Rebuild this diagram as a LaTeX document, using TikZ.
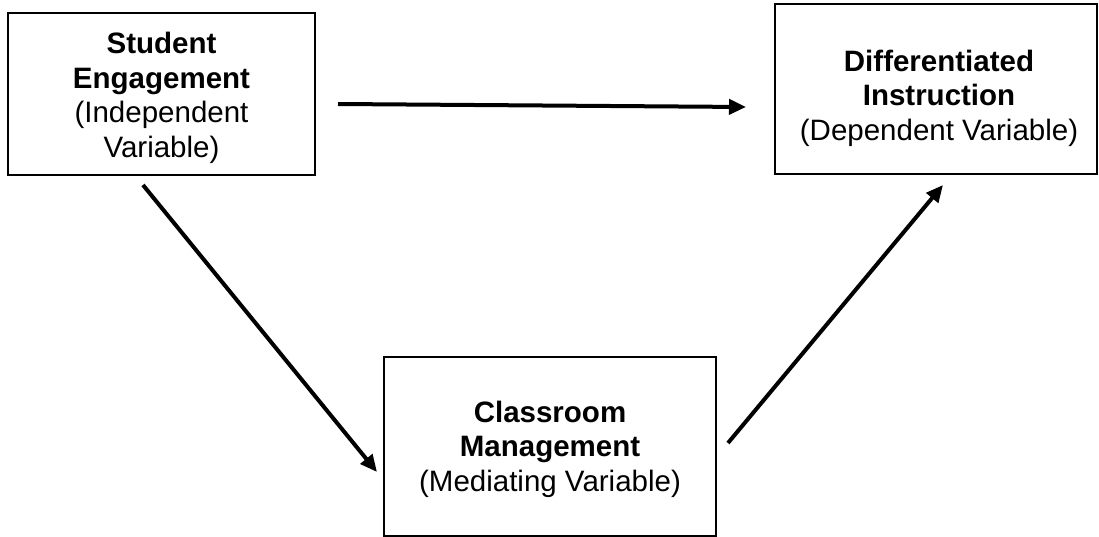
\documentclass[tikz,border=0pt]{standalone}
\usepackage{fontspec}
\setmainfont{Liberation Sans}
\usetikzlibrary{arrows.meta}
\begin{document}
\begin{tikzpicture}[x=1pt,y=-1pt,
  box/.style={draw=black, line width=2.6pt, rectangle, inner sep=0pt},
  lbl/.style={align=center, font=\fontsize{29.5}{34.5}\selectfont, inner sep=0pt},
  conn/.style={line width=4pt, -{Triangle[length=17pt,width=15pt]}}]
\useasboundingbox (0,0) rectangle (1099,537);
% boxes
\node[box, minimum width=307pt, minimum height=162pt] (b1) at (161.5,94) {};
\node[box, minimum width=322pt, minimum height=170pt] (b2) at (936,89) {};
\node[box, minimum width=332pt, minimum height=179pt] (b3) at (550,446.5) {};
% texts
\node[lbl] (t1) at (161.5,98) {\textbf{Student}\\\textbf{Engagement}\\(Independent\\Variable)};
\node[lbl] (t2) at (939,98) {\textbf{Differentiated}\\\textbf{Instruction}\\(Dependent Variable)};
\node[lbl] (t3) at (550,449) {\textbf{Classroom}\\\textbf{Management}\\(Mediating Variable)};
% arrow end points
\coordinate (a1s) at (338,104);
\coordinate (a1e) at (746,107);
\coordinate (a2s) at (143,185);
\coordinate (a2e) at (377,472);
\coordinate (a3s) at (728,443);
\coordinate (a3e) at (943,185);
\draw[conn] (a1s) -- (a1e);
\draw[conn] (a2s) -- (a2e);
\draw[conn] (a3s) -- (a3e);
\end{tikzpicture}
\end{document}
